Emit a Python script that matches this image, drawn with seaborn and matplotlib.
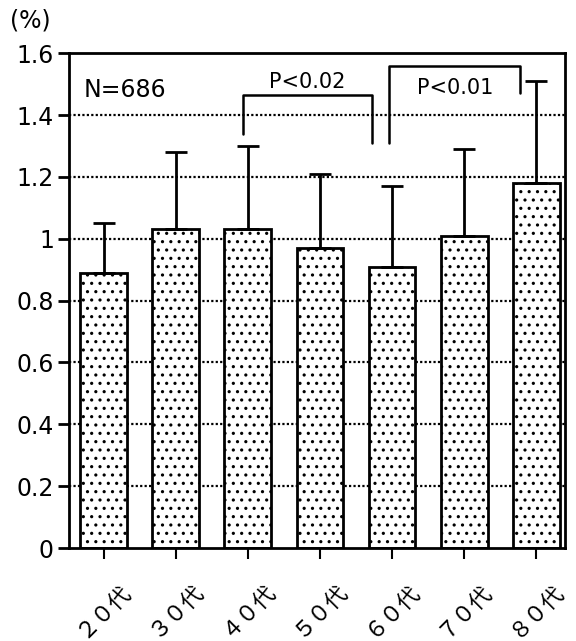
import matplotlib
matplotlib.use("Agg")
from matplotlib import pyplot as plt
import numpy as np
import pandas
import seaborn as sns

# data
ages = ["２０代", "３０代", "４０代", "５０代", "６０代", "７０代", "８０代"]
means = [0.89, 1.03, 1.03, 0.97, 0.91, 1.01, 1.18]
sd_upper = [1.05, 1.28, 1.30, 1.21, 1.17, 1.29, 1.51]
yticks = [0, 0.2, 0.4, 0.6, 0.8, 1.0, 1.2, 1.4, 1.6]
ytick_labels = ["0", "0.2", "0.4", "0.6", "0.8", "1", "1.2", "1.4", "1.6"]

# significance brackets: (x left, x right, top, left end, right end, label, label y)
brackets = [
    (1.93, 3.72, 1.465, 1.34, 1.31, "P<0.02", 1.475),
    (3.96, 5.78, 1.56, 1.31, 1.47, "P<0.01", 1.455),
]

sns.set_style("white")
plt.rcParams['font.family'] = ['Noto Sans CJK JP', 'DejaVu Sans']
plt.rcParams['hatch.linewidth'] = 1.1
plt.rcParams['text.color'] = 'black'
plt.rcParams['xtick.color'] = 'black'
plt.rcParams['ytick.color'] = 'black'

df = pandas.DataFrame({"age": ages, "mean": means})
err = np.array(sd_upper) - np.array(means)

fig = plt.figure(figsize=(5.76, 6.41), dpi=100)
ax = fig.add_axes([0.12, 0.145, 0.861, 0.772])

# dotted grid
for t in yticks[1:-1]:
    ax.axhline(t, color="black", linestyle=(0, (1, 1)), linewidth=1.6, zorder=0)

sns.barplot(data=df, x="age", y="mean", ax=ax, color="white", width=0.65,
            edgecolor="black", linewidth=2, errorbar=None, zorder=2)
for bar in ax.patches:
    bar.set_hatch("..")

ax.errorbar(range(len(ages)), means, yerr=[np.zeros(len(err)), err], fmt="none",
            ecolor="black", elinewidth=2, capsize=8, capthick=2, zorder=3)

# brackets
for xl, xr, top, yl, yr, label, ly in brackets:
    ax.plot([xl, xl, xr, xr], [yl, top, top, yr], color="black", linewidth=1.8,
            zorder=4, clip_on=False)
    ax.text((xl + xr) / 2, ly, label, ha="center", va="bottom", fontsize=15,
            family=['DejaVu Sans'])

ax.text(-0.28, 1.48, "N=686", fontsize=17, ha="left", va="center", family=['DejaVu Sans'])

# Plot settings
ax.set_xlim(-0.48, 6.4)
ax.set_ylim(0, 1.6)
ax.set_yticks(yticks)
ax.set_yticklabels(ytick_labels, fontsize=17, family=['DejaVu Sans'])
ax.set_xticks(range(len(ages)))
ax.set_xticklabels(ages, rotation=45, ha="center", va="top", fontsize=16)
ax.tick_params(axis="y", left=True, direction="out", length=8, width=2, pad=3)
ax.tick_params(axis="x", bottom=True, direction="out", length=8, width=1.5, pad=14)
ax.set_xlabel("")
ax.set_ylabel("")
for s in ax.spines.values():
    s.set_linewidth(2)
    s.set_color("black")
fig.text(0.018, 0.968, "(%)", fontsize=17, ha="left", va="center", family=['DejaVu Sans'])

fig.savefig("out.png", dpi=100)
